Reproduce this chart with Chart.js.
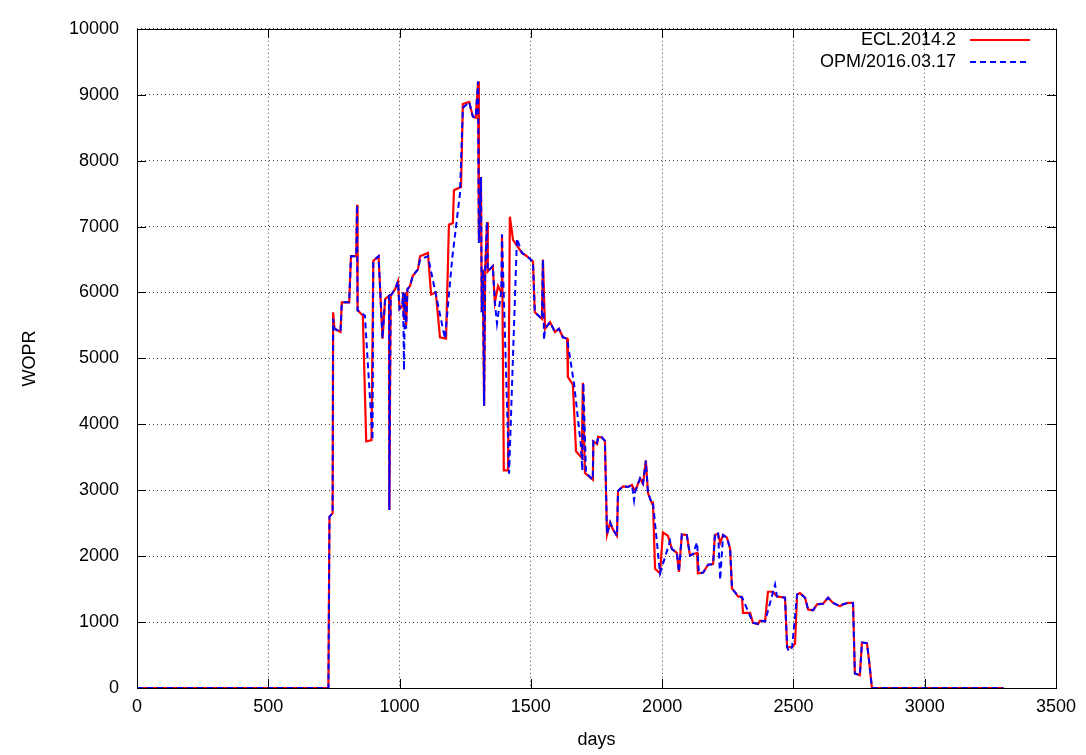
<!DOCTYPE html>
<html>
<head>
<meta charset="utf-8">
<script src="https://cdn.jsdelivr.net/npm/chart.js@4"></script>
<style>
  html, body { margin: 0; padding: 0; background: #fff; }
  #wrap { width: 1086px; height: 755px; }
</style>
</head>
<body>
<div id="wrap"><canvas id="chart" width="1086" height="755"></canvas></div>
<script>
// WOPR vs days

const eclDays = [0, 729, 733, 745, 747, 752, 775, 780, 808, 815, 835, 838, 840, 860, 873, 893, 900, 920, 935, 945, 960, 961, 966, 983, 994, 1000, 1010, 1013, 1017, 1020, 1025, 1030, 1040, 1050, 1070, 1078, 1108, 1120, 1138, 1154, 1177, 1188, 1203, 1207, 1234, 1241, 1265, 1279, 1290, 1299, 1302, 1310, 1313, 1317, 1322, 1326, 1333, 1336, 1355, 1363, 1375, 1387, 1390, 1397, 1413, 1420, 1432, 1466, 1485, 1508, 1515, 1542, 1546, 1554, 1573, 1592, 1607, 1622, 1638, 1641, 1660, 1672, 1694, 1698, 1706, 1736, 1738, 1752, 1756, 1771, 1782, 1790, 1802, 1812, 1828, 1832, 1851, 1870, 1885, 1897, 1916, 1927, 1938, 1946, 1961, 1965, 1973, 1992, 2003, 2022, 2037, 2056, 2064, 2075, 2094, 2106, 2117, 2133, 2136, 2156, 2175, 2194, 2201, 2213, 2221, 2232, 2247, 2259, 2266, 2278, 2289, 2304, 2308, 2335, 2346, 2365, 2373, 2392, 2403, 2422, 2437, 2468, 2476, 2495, 2506, 2514, 2525, 2544, 2556, 2575, 2590, 2613, 2632, 2651, 2677, 2689, 2708, 2727, 2734, 2753, 2761, 2780, 2788, 2799, 3300];
const eclRate = [0, 0, 2600, 2650, 5700, 5450, 5400, 5850, 5850, 6550, 6550, 7330, 5730, 5650, 3740, 3760, 6480, 6550, 5300, 5900, 5950, 2700, 5950, 6050, 6170, 5750, 5800, 6000, 5600, 6000, 5500, 6050, 6100, 6250, 6350, 6550, 6600, 5970, 6000, 5320, 5300, 7030, 7050, 7550, 7600, 8860, 8890, 8670, 8650, 9200, 6800, 7750, 5700, 6350, 4280, 6350, 7070, 6320, 6400, 5850, 6100, 6000, 6880, 3300, 3300, 7150, 6800, 6600, 6550, 6470, 5700, 5600, 6500, 5450, 5550, 5400, 5450, 5320, 5300, 4720, 4600, 3590, 3490, 4630, 3260, 3160, 3740, 3700, 3810, 3800, 3750, 2330, 2510, 2410, 2310, 2990, 3060, 3050, 3080, 2980, 3180, 3100, 3450, 2960, 2800, 2810, 1810, 1740, 2360, 2310, 2110, 2050, 1760, 2330, 2320, 2010, 2030, 2050, 1740, 1750, 1870, 1880, 2320, 2340, 2200, 2320, 2280, 2110, 1510, 1450, 1390, 1380, 1140, 1140, 990, 970, 1020, 1010, 1460, 1460, 1390, 1370, 620, 620, 670, 1420, 1440, 1370, 1190, 1180, 1270, 1280, 1370, 1290, 1240, 1270, 1290, 1290, 220, 195, 690, 680, 420, 0, 0];

const opmDays = [0, 729, 733, 745, 747, 752, 775, 780, 808, 815, 835, 838, 840, 868, 897, 900, 920, 935, 945, 960, 961, 966, 983, 994, 1000, 1010, 1013, 1017, 1020, 1025, 1030, 1040, 1050, 1070, 1078, 1108, 1173, 1200, 1230, 1241, 1265, 1279, 1290, 1299, 1302, 1310, 1313, 1317, 1322, 1326, 1333, 1336, 1355, 1363, 1371, 1387, 1390, 1417, 1447, 1466, 1485, 1508, 1515, 1542, 1546, 1550, 1554, 1573, 1592, 1607, 1622, 1638, 1665, 1690, 1696, 1700, 1710, 1736, 1738, 1752, 1756, 1771, 1782, 1790, 1802, 1812, 1828, 1832, 1851, 1870, 1885, 1893, 1897, 1916, 1927, 1938, 1946, 1961, 1965, 1992, 2030, 2037, 2056, 2064, 2075, 2094, 2106, 2117, 2133, 2140, 2156, 2175, 2194, 2201, 2213, 2221, 2232, 2247, 2259, 2266, 2278, 2289, 2304, 2346, 2365, 2373, 2392, 2430, 2437, 2468, 2476, 2482, 2495, 2514, 2525, 2544, 2556, 2575, 2590, 2613, 2632, 2651, 2677, 2689, 2708, 2727, 2734, 2753, 2761, 2780, 2788, 2799, 3300];
const opmRate = [0, 0, 2600, 2650, 5600, 5450, 5400, 5850, 5850, 6550, 6550, 7330, 5730, 5650, 3760, 6480, 6550, 5300, 5900, 5950, 2700, 5950, 6050, 6170, 5750, 5800, 6000, 4820, 6000, 5450, 6050, 6100, 6250, 6350, 6500, 6550, 5300, 6500, 7500, 8800, 8890, 8670, 8650, 9200, 6750, 7750, 5700, 6350, 4280, 6350, 7070, 6320, 6400, 5850, 5530, 6000, 6880, 3250, 6820, 6600, 6550, 6470, 5700, 5600, 6500, 5280, 5450, 5550, 5400, 5450, 5320, 5300, 4600, 3700, 3300, 4630, 3260, 3160, 3740, 3700, 3810, 3800, 3750, 2330, 2510, 2410, 2310, 2990, 3060, 3050, 3080, 2850, 2980, 3180, 3100, 3450, 2960, 2800, 2810, 1740, 2230, 2110, 2050, 1760, 2330, 2320, 2010, 2030, 2210, 1740, 1750, 1870, 1880, 2320, 2360, 1640, 2320, 2280, 2110, 1510, 1450, 1390, 1380, 990, 970, 1020, 1010, 1570, 1390, 1370, 620, 560, 620, 1420, 1440, 1370, 1190, 1180, 1270, 1280, 1370, 1290, 1240, 1270, 1290, 1290, 220, 195, 690, 680, 420, 0, 0];

const seriesNames = ['ECL.2014.2', 'OPM/2016.03.17'];
const xTicks = [0, 500, 1000, 1500, 2000, 2500, 3000, 3500];
const yTicks = [0, 1000, 2000, 3000, 4000, 5000, 6000, 7000, 8000, 9000, 10000];

const FONT = 'Liberation Sans, Arial, Helvetica, sans-serif';

function pts(xs, ys) {
    return xs.map((x, i) => ({ x: x, y: ys[i] }));
}

// gnuplot-ish inward tick marks + legend inside the top right corner
const plotExtras = {
    id: 'plotExtras',
    afterDatasetsDraw(chart) {
        const ctx = chart.ctx;
        const a = chart.chartArea;
        const xs = chart.scales.x, ys = chart.scales.y;
        ctx.save();
        ctx.strokeStyle = '#000';
        ctx.lineWidth = 1;
        ctx.beginPath();
        xTicks.forEach(v => {
            const p = Math.round(xs.getPixelForValue(v)) + 0.5;
            ctx.moveTo(p, a.bottom); ctx.lineTo(p, a.bottom - 9);
            ctx.moveTo(p, a.top); ctx.lineTo(p, a.top + 9);
        });
        yTicks.forEach(v => {
            const p = Math.round(ys.getPixelForValue(v)) + 0.5;
            ctx.moveTo(a.left, p); ctx.lineTo(a.left + 9, p);
            ctx.moveTo(a.right, p); ctx.lineTo(a.right - 9, p);
        });
        ctx.stroke();

        // legend
        ctx.font = '18px ' + FONT;
        ctx.textAlign = 'right';
        ctx.textBaseline = 'middle';
        chart.data.datasets.forEach((ds, i) => {
            const y = 40 + i * 22;
            ctx.fillStyle = '#000';
            ctx.fillText(ds.label, 956, y);
            ctx.strokeStyle = ds.borderColor;
            ctx.lineWidth = 2;
            ctx.setLineDash(ds.borderDash || []);
            ctx.beginPath();
            ctx.moveTo(970, y); ctx.lineTo(1030, y);
            ctx.stroke();
            ctx.setLineDash([]);
        });
        ctx.restore();
    }
};

const ctx = document.getElementById('chart').getContext('2d');
const chart = new Chart(ctx, {
    type: 'line',
    data: {
        datasets: [{
            label: seriesNames[0],
            data: pts(eclDays, eclRate),
            borderColor: '#ff0000',
            borderWidth: 2.2,
            pointRadius: 0,
            tension: 0,
            order: 2
        }, {
            label: seriesNames[1],
            data: pts(opmDays, opmRate),
            borderColor: '#0000ff',
            borderWidth: 2,
            borderDash: [6, 4],
            pointRadius: 0,
            tension: 0,
            order: 1
        }]
    },
    options: {
        responsive: false,
        animation: false,
        layout: { padding: { top: 19, right: 30, left: 0, bottom: 0 } },
        plugins: { legend: { display: false }, tooltip: { enabled: false } },
        scales: {
            x: {
                type: 'linear',
                min: 0, max: 3500,
                afterBuildTicks: s => { s.ticks = xTicks.map(v => ({ value: v })); },
                afterFit: s => { s.height = 67; },
                border: { display: false, dash: [1, 3] },
                grid: { color: '#444', tickLength: 0, drawTicks: false },
                ticks: { color: '#000', font: { family: FONT, size: 18 }, padding: 8, maxRotation: 0, callback: v => String(v) },
                title: { display: true, text: 'days', color: '#000', font: { family: FONT, size: 18 }, padding: { top: 4 } }
            },
            y: {
                min: 0, max: 10000,
                afterBuildTicks: s => { s.ticks = yTicks.map(v => ({ value: v })); },
                afterFit: s => { s.width = 137; },
                border: { display: false, dash: [1, 3] },
                grid: { color: '#444', tickLength: 0, drawTicks: false },
                ticks: { color: '#000', font: { family: FONT, size: 18 }, padding: 18, callback: v => String(v) },
                title: { display: true, text: 'WOPR', color: '#000', font: { family: FONT, size: 18 }, padding: { top: 19, bottom: 0 } }
            }
        }
    },
    plugins: [plotExtras, {
        id: 'frame',
        afterDraw(chart) {
            const c = chart.ctx, a = chart.chartArea;
            c.save();
            c.strokeStyle = '#000';
            c.lineWidth = 1;
            c.strokeRect(Math.round(a.left) + 0.5, Math.round(a.top) + 0.5, Math.round(a.right - a.left), Math.round(a.bottom - a.top));
            c.restore();
        }
    }]
});
</script>
</body>
</html>
